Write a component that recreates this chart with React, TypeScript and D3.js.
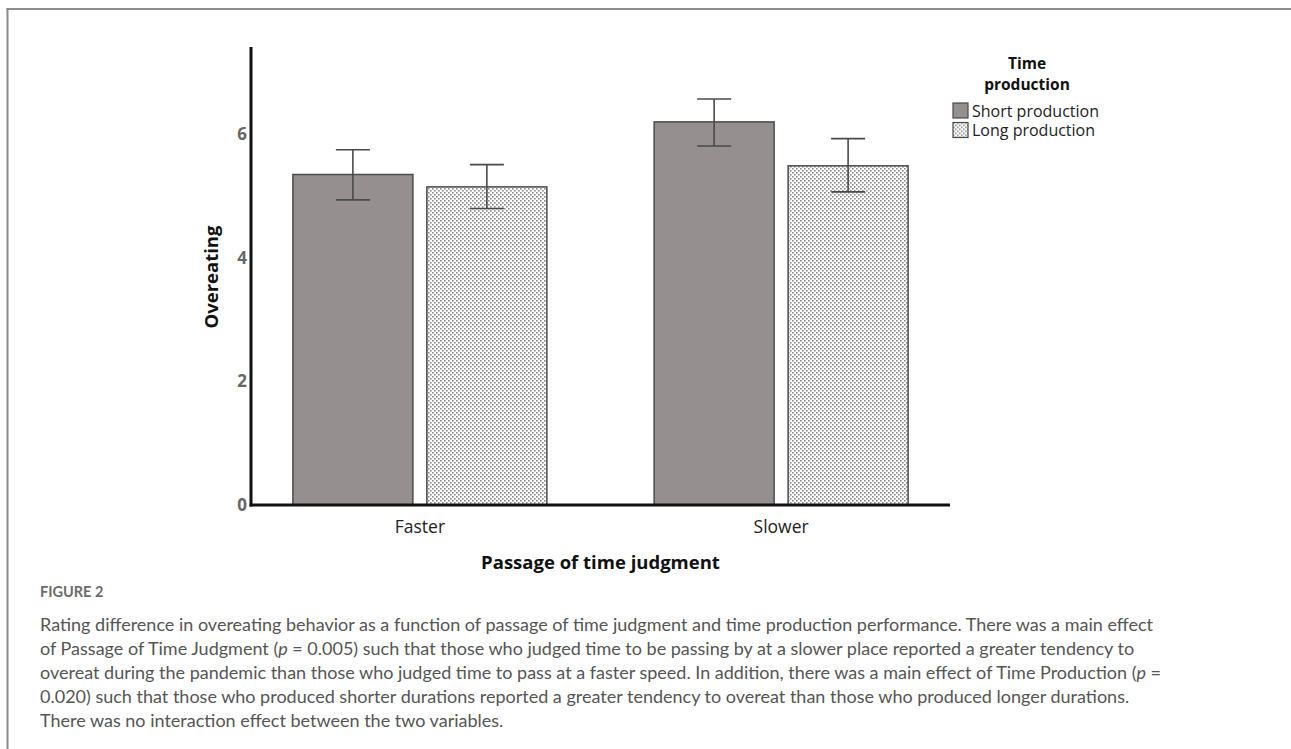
import React from "react";
import * as d3 from "d3";

const categories = ["Faster", "Slower"];
const series = ["Short production", "Long production"];
const shortMeans = [5.34, 6.19];
const shortLower = [4.93, 5.8];
const shortUpper = [5.74, 6.56];
const longMeans = [5.14, 5.48];
const longLower = [4.79, 5.06];
const longUpper = [5.5, 5.92];
const yTicks = [0, 2, 4, 6];
const legendTitle = ["Time", "production"];

const captionLines = [
  [{ t: "Rating difference in overeating behavior as a function of passage of time judgment and time production performance. There was a main effect" }],
  [{ t: "of Passage of Time Judgment (" }, { t: "p", i: true }, { t: " = 0.005) such that those who judged time to be passing by at a slower place reported a greater tendency to" }],
  [{ t: "overeat during the pandemic than those who judged time to pass at a faster speed. In addition, there was a main effect of Time Production (" }, { t: "p", i: true }, { t: " =" }],
  [{ t: "0.020) such that those who produced shorter durations reported a greater tendency to overeat than those who produced longer durations." }],
  [{ t: "There was no interaction effect between the two variables." }],
];

const W = 1291;
const H = 749;
const axisLeft = 251;
const axisBottom = 505;
const axisTop = 47;
const axisRight = 950;

export default function App() {
  const y = d3.scaleLinear().domain([0, 7.4]).range([axisBottom, axisTop]);
  const x0 = d3
    .scaleBand<string>()
    .domain(categories)
    .range([axisLeft, axisRight])
    .paddingInner(0.297)
    .paddingOuter(0.116);
  const x1 = d3
    .scaleBand<string>()
    .domain(series)
    .range([0, x0.bandwidth()])
    .paddingInner(0.1045)
    .paddingOuter(0);

  const rows = categories.flatMap((c, i) => [
    { cat: c, s: series[0], v: shortMeans[i], lo: shortLower[i], hi: shortUpper[i] },
    { cat: c, s: series[1], v: longMeans[i], lo: longLower[i], hi: longUpper[i] },
  ]);

  const font = "'Open Sans', 'Noto Sans', sans-serif";
  const capFont = "Lato, 'Open Sans', sans-serif";
  const fillFor = (s: string) => (s === series[0] ? "#958f8f" : "url(#dots)");

  return (
    <svg
      width={W}
      height={H}
      style={{ position: "absolute", left: 0, top: 0, background: "#fff" }}
      fontFamily={font}
    >
      <defs>
        <pattern id="dots" width={4} height={4} patternUnits="userSpaceOnUse">
          <rect width={4} height={4} fill="#ffffff" />
          <rect x={0} y={0} width={1.6} height={1.6} fill="#8a8a8a" />
          <rect x={2} y={2} width={1.6} height={1.6} fill="#8a8a8a" />
        </pattern>
      </defs>

      {/* frame */}
      <line x1={7.5} x2={7.5} y1={8} y2={H} stroke="#8c8c8c" strokeWidth={2} />
      <line x1={6.5} x2={W} y1={9} y2={9} stroke="#8c8c8c" strokeWidth={2} />

      {/* bars with error bars */}
      {rows.map((r, i) => {
        const bx = (x0(r.cat) as number) + (x1(r.s) as number);
        const bw = x1.bandwidth();
        const cx = bx + bw / 2;
        return (
          <g key={i}>
            <rect
              x={bx}
              y={y(r.v)}
              width={bw}
              height={y(0) - y(r.v)}
              fill={fillFor(r.s)}
              stroke="#4a4a4a"
              strokeWidth={1.5}
            />
            <line x1={cx} x2={cx} y1={y(r.lo)} y2={y(r.hi)} stroke="#4a4a4a" strokeWidth={1.6} />
            <line x1={cx - 17} x2={cx + 17} y1={y(r.hi)} y2={y(r.hi)} stroke="#4a4a4a" strokeWidth={1.6} />
            <line x1={cx - 17} x2={cx + 17} y1={y(r.lo)} y2={y(r.lo)} stroke="#4a4a4a" strokeWidth={1.6} />
          </g>
        );
      })}

      {/* axes */}
      <line x1={axisLeft} x2={axisLeft} y1={axisTop} y2={axisBottom + 1.5} stroke="#111" strokeWidth={3} />
      <line x1={axisLeft - 1.5} x2={axisRight} y1={axisBottom} y2={axisBottom} stroke="#111" strokeWidth={3} />

      {yTicks.map((t) => (
        <text
          key={t}
          x={247}
          y={y(t)}
          dy="0.36em"
          textAnchor="end"
          fontSize={17}
          fontWeight={700}
          fill="#666"
        >
          {t}
        </text>
      ))}

      {categories.map((c) => (
        <text
          key={c}
          x={(x0(c) as number) + x0.bandwidth() / 2}
          y={533}
          textAnchor="middle"
          fontSize={17.5}
          fill="#222"
        >
          {c}
        </text>
      ))}

      <text
        x={(axisLeft + axisRight) / 2}
        y={569}
        textAnchor="middle"
        fontSize={18.5}
        fontWeight={700}
        fill="#111"
      >
        Passage of time judgment
      </text>

      <text
        transform={`translate(${218},${277}) rotate(-90)`}
        textAnchor="middle"
        fontSize={18.5}
        fontWeight={700}
        fill="#111"
      >
        Overeating
      </text>

      {/* legend */}
      <g>
        {legendTitle.map((l, i) => (
          <text key={l} x={1027} y={69 + i * 21} textAnchor="middle" fontSize={15.5} fontWeight={700} fill="#111">
            {l}
          </text>
        ))}
        {series.map((s, i) => (
          <g key={s} transform={`translate(953,${103 + i * 19.5})`}>
            <rect x={0} y={0} width={15} height={15} fill={fillFor(s)} stroke="#4a4a4a" strokeWidth={1.2} />
            <text x={19} y={13.5} fontSize={16} fill="#222">
              {s}
            </text>
          </g>
        ))}
      </g>

      {/* caption */}
      <text x={40} y={597} fontFamily={capFont} fontSize={14.5} fontWeight={700} fill="#6b6b6b">
        FIGURE 2
      </text>
      {captionLines.map((parts, i) => (
        <text key={i} x={40} y={631 + i * 24} fontFamily={capFont} fontSize={18} fill="#555">
          {parts.map((p, j) => (
            <tspan key={j} fontStyle={p.i ? "italic" : "normal"}>
              {p.t}
            </tspan>
          ))}
        </text>
      ))}
    </svg>
  );
}
